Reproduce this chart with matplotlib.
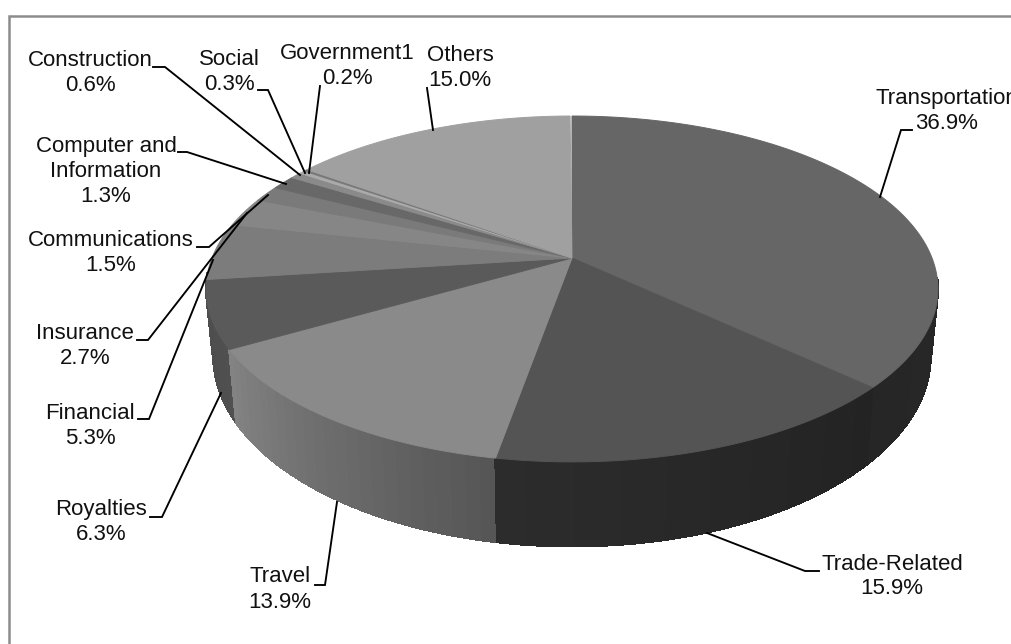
"""
plot.py
Pie chart 3D (perspektif) komposisi ekspor jasa, digambar dari persentase tiap kategori.
"""

import matplotlib
import matplotlib.pyplot as plt
import numpy as np

matplotlib.use("Agg")

plt.rcParams["font.family"] = ["Liberation Sans", "DejaVu Sans"]

# Data
CATEGORIES = ["Transportation", "Trade-Related", "Travel", "Royalties", "Financial", "Insurance",
              "Communications", "Computer and\nInformation", "Construction", "Social",
              "Government1", "Others"]
VALUES = [36.9, 15.9, 13.9, 6.3, 5.3, 2.7, 1.5, 1.3, 0.6, 0.3, 0.2, 15.0]

# Warna per irisan: permukaan atas, lalu gradasi sisi (awal, akhir searah jarum jam)
TOP_GRAYS = [0x66, 0x54, 0x8a, 0x5a, 0x7c, 0x86, 0x7a, 0x68, 0x8a, 0xaa, 0x78, 0xa0]
SIDE_START = [0x2c, 0x23, 0x55, 0x50, 0x6a, 0x6a, 0x6a, 0x6a, 0x6a, 0x6a, 0x6a, 0x6a]
SIDE_END = [0x26, 0x2c, 0x84, 0x4c, 0x6a, 0x6a, 0x6a, 0x6a, 0x6a, 0x6a, 0x6a, 0x6a]

# Posisi label (pusat x, y baris pertama) dan garis penunjuk, dalam piksel
LABEL_POS = [(947, 98), (892, 564), (280, 577), (101, 510), (90, 413), (85, 333),
             (111, 240), (106, 146), (90, 60), (229, 59), (347, 53), (460, 55)]
LEADERS = [
    [(912, 130), (901, 130), (880, 197)],
    [(819, 571), (805, 571), (707, 533)],
    [(315, 585), (325, 585), (337, 502)],
    [(150, 517), (162, 517), (221, 393)],
    [(138, 419), (149, 419), (213, 260)],
    [(137, 340), (148, 340), (247, 213)],
    [(197, 247), (209, 247), (268, 195)],
    [(178, 152), (187, 152), (286, 184)],
    [(153, 67), (165, 67), (300, 175)],
    [(258, 90), (268, 90), (305, 173)],
    [(320, 86), (309, 173)],
    [(427, 88), (433, 130)],
]

# Geometri proyeksi
CX, CY = 572, 258
RX, RY, PERSP = 360, 167.4, 0.179
RIM_SCALE, RIM_DROP, RIM_SLOPE = 0.98, 64, 0.10


def project(angle):
    """Sudut searah jarum jam dari atas (radian) ke titik tepi atas pada layar."""
    u, v = np.sin(angle), np.cos(angle)
    w = 1 + PERSP * v
    return CX + RX * u / w, CY - RY * v / w


def project_lower(angle):
    """Titik tepi bawah silinder untuk sudut yang sama."""
    x, y = project(angle)
    return CX + RIM_SCALE * (x - CX), y + RIM_DROP + RIM_SLOPE * (y - CY)


def gray(level):
    level = int(round(level))
    return f"#{level:02x}{level:02x}{level:02x}"


fig = plt.figure(figsize=(10.11, 6.44), dpi=100, facecolor="white")
ax = fig.add_axes([0, 0, 1, 1])
ax.set_xlim(0, 1011)
ax.set_ylim(644, 0)
ax.axis("off")

# Bingkai grafik (hanya kiri dan atas yang tampak)
ax.plot([9, 9, 1011], [644, 16, 16], color="#8c8c8c", lw=1.8, solid_joinstyle="miter")

edges = np.radians(np.cumsum([0] + VALUES) * 3.6)

# Sisi silinder: strip kecil dengan gradasi, dari belakang ke depan
strips = []
for i in range(len(VALUES)):
    n = max(int((edges[i + 1] - edges[i]) / np.radians(2.0)), 1)
    steps = np.linspace(edges[i], edges[i + 1], n + 1)
    for j in range(n):
        t = (j + 0.5) / n
        strips.append((steps[j], steps[j + 1], SIDE_START[i] + t * (SIDE_END[i] - SIDE_START[i])))

# sisi bagian belakang tertutup permukaan atas, jadi tidak perlu digambar
strips = [s for s in strips if np.cos((s[0] + s[1]) / 2) < -0.1]
strips.sort(key=lambda s: project((s[0] + s[1]) / 2)[1])
for a0, a1, level in strips:
    top0, top1 = project(a0), project(a1)
    low0, low1 = project_lower(a0), project_lower(a1)
    xs = [top0[0], top1[0], low1[0], low0[0]]
    ys = [top0[1], top1[1], low1[1], low0[1]]
    # tanpa antialias agar sambungan antar strip tidak terlihat
    ax.fill(xs, ys, color=gray(level), lw=1.0, antialiased=False, zorder=2)

# Permukaan atas tiap irisan
for i in range(len(VALUES)):
    angles = np.linspace(edges[i], edges[i + 1], max(int(VALUES[i] * 4), 3))
    px, py = project(angles)
    ax.fill(np.r_[CX, px], np.r_[CY, py], color=gray(TOP_GRAYS[i]), lw=0.7, zorder=3)

# Garis penunjuk dan label
for pts in LEADERS:
    xs, ys = zip(*pts)
    ax.plot(xs, ys, color="black", lw=1.35, zorder=4, solid_joinstyle="miter")

for name, val, (x, y) in zip(CATEGORIES, VALUES, LABEL_POS):
    lines = name.split("\n") + [f"{val:.1f}%"]
    for k, line in enumerate(lines):
        ax.text(x, y + k * 25, line, ha="center", va="center", fontsize=16,
                color="#111111", zorder=5)

fig.savefig("out.png", dpi=100, facecolor="white")
plt.close(fig)
